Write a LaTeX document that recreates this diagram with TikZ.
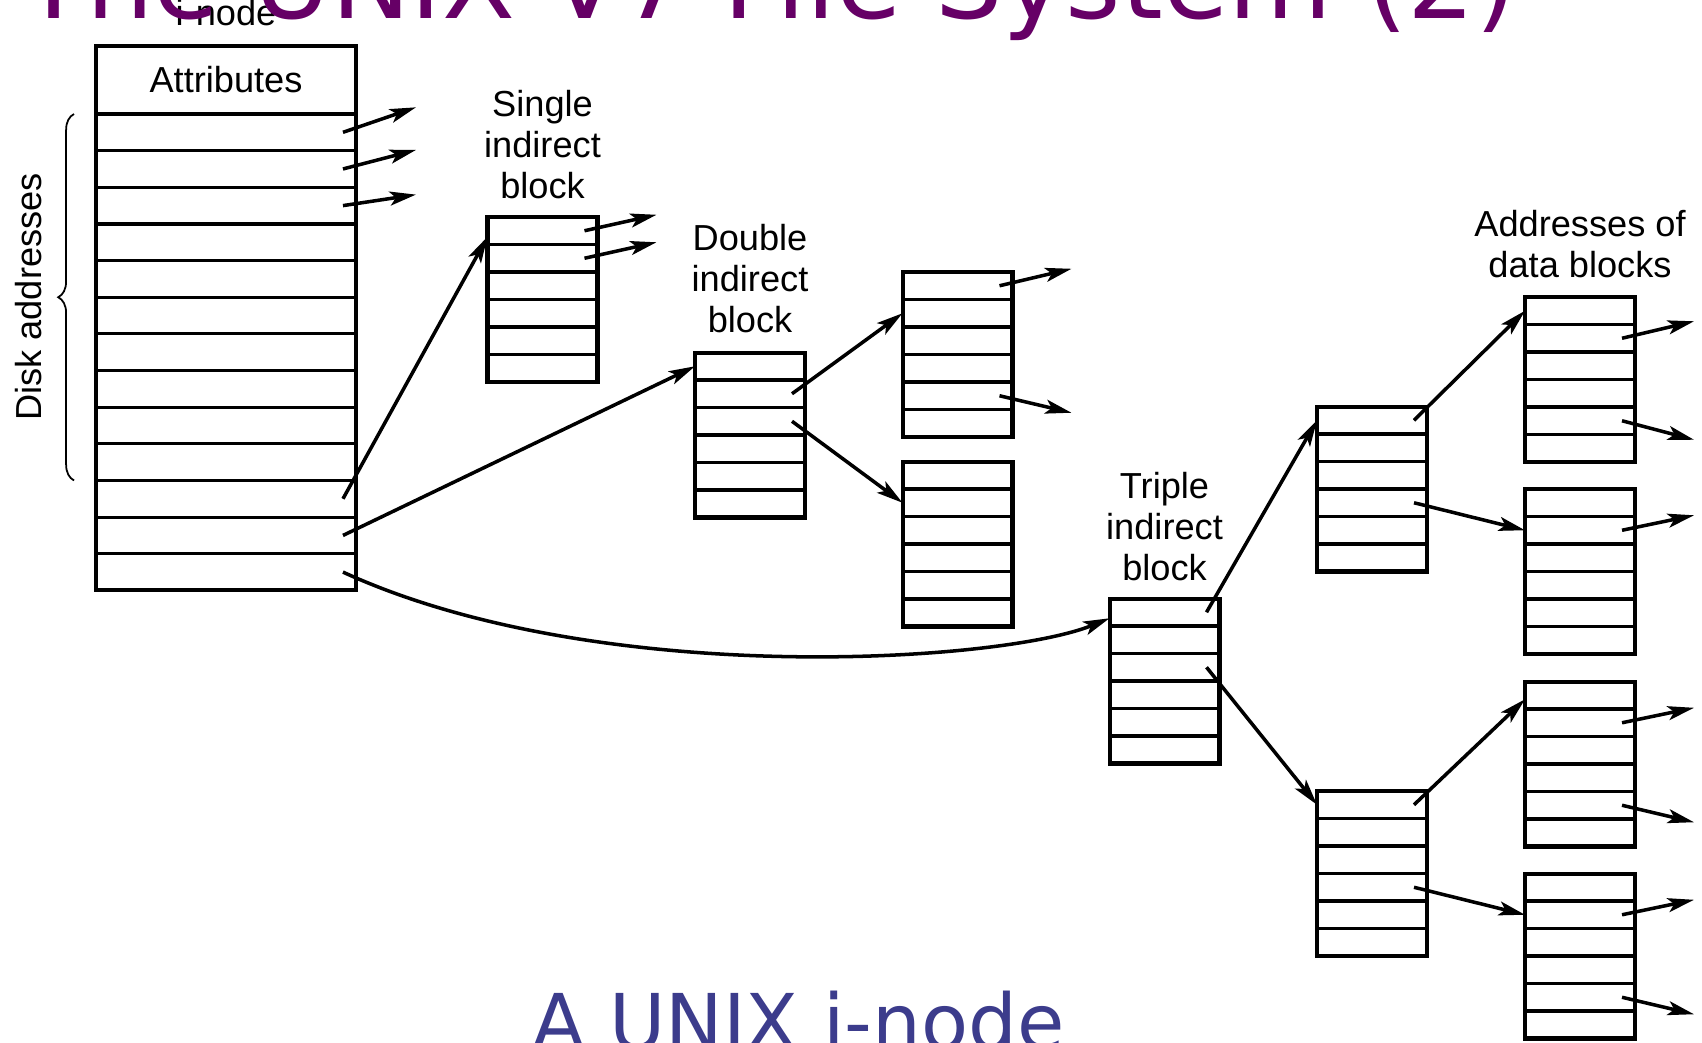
\documentclass[tikz,border=0pt]{standalone}
\usepackage{fontspec}
\usepackage{tikz}
\usetikzlibrary{arrows.meta,positioning,calc,decorations.pathreplacing}
\newfontfamily\lbfont{Liberation Sans}
\newfontfamily\ttlfont{DejaVu Sans}
\definecolor{ttlpurple}{HTML}{660066}
\definecolor{subblue}{HTML}{3C3C8C}
% row lines of a block, and a named point in every row
\newcommand{\cells}[2]{%
  \foreach \k in {1,...,#2}{
    \coordinate (#1-\k) at ($(#1.north east)!{(\k-0.5)/#2}!(#1.south east)+(-13,0)$);
    \coordinate (#1-w\k) at ($(#1.north west)!{(\k-0.5)/#2}!(#1.south west)$);
  }
  \pgfmathtruncatemacro{\ncut}{#2-1}
  \foreach \k in {1,...,\ncut}
    \draw[cell] ($(#1.north west)!{\k/#2}!(#1.south west)$) -- ($(#1.north east)!{\k/#2}!(#1.south east)$);
}

\begin{document}
\begin{tikzpicture}[x=0.02cm, y=-0.02cm, >={Stealth[length=15pt,width=8pt,inset=3.5pt]},
 blk/.style={draw, line width=2.3pt, minimum width=2.2cm, minimum height=3.3cm, inner sep=0pt, outer sep=0pt},
 cell/.style={line width=1.8pt},
 ptr/.style={->, line width=2pt},
 lbl/.style={font=\lbfont\fontsize{20.6}{23.3}\selectfont, align=center, inner sep=0pt}]
\fill[white] (0,0) rectangle (1702,1042);
\useasboundingbox (0,0) rectangle (1702,1042);
% the i-node
\node[blk, lbl, minimum width=5.2cm, minimum height=1.36cm] (attr) at (226,80) {Attributes};
\node[blk, minimum width=5.2cm, minimum height=9.53cm, below=0pt of attr] (ino) {};
\cells{ino}{13}
\node[lbl, above=0.4cm of attr] (inolbl) {i-node};
\draw[decorate, decoration={brace, amplitude=9pt}, line width=1pt]
 ($(ino.north west)!10/13!(ino.south west)+(-22,0)$) -- ($(ino.north west)+(-22,0)$);
\node[lbl, rotate=90] (disk) at (29,297) {Disk addresses};
% indirect blocks
\node[blk] (sib) at (542.5,299.5) {};
\node[blk] (dib) at (750,435) {};
\node[blk] (d1) at (957.5,354.5) {};
\node[blk] (d2) at (957.5,544) {};
\node[blk] (tib) at (1164.5,681) {};
\node[blk] (t1) at (1372,489) {};
\node[blk] (t2) at (1372,873.5) {};
\node[blk] (a1) at (1580,379.5) {};
\node[blk] (a2) at (1580,571.5) {};
\node[blk] (a3) at (1580,764) {};
\node[blk] (a4) at (1580,956) {};
\foreach \b in {sib,dib,d1,d2,tib,t1,t2,a1,a2,a3,a4} {\cells{\b}{6}}
\node[lbl, above=0.36cm of sib] (siblbl) {Single\\indirect\\block};
\node[lbl, above=0.38cm of dib] (diblbl) {Double\\indirect\\block};
\node[lbl, above=0.34cm of tib] (tiblbl) {Triple\\indirect\\block};
\node[lbl, above=0.38cm of a1] (albl) {Addresses of\\data blocks};
% direct addresses
\foreach \i/\dy in {1/-25, 2/-19, 3/-11} {
 \coordinate (ino-o\i) at ($(ino-\i)+(73,\dy)$);
 \draw[ptr] (ino-\i) -- (ino-o\i);
}
\foreach \i in {1,2} {
 \coordinate (sib-o\i) at ($(sib-\i)+(72,-16)$);
 \draw[ptr] (sib-\i) -- (sib-o\i);
}
% indirect chains
\draw[ptr] (ino-11) -- ($(sib-w1)+(0,6)$);
\draw[ptr] (ino-12) -- (dib-w1);
\draw[ptr] (ino-13) .. controls +(255,117) and +(-108,44) .. ($(tib-w1)+(0,6)$);
\draw[ptr] (dib-2) -- (d1-w2);
\draw[ptr] (dib-3) -- (d2-w2);
\coordinate (d1-o1) at ($(d1-1)+(72,-17)$);
\coordinate (d1-o5) at ($(d1-5)+(72,17)$);
\draw[ptr] (d1-1) -- (d1-o1);
\draw[ptr] (d1-5) -- (d1-o5);
\draw[ptr] (tib-1) -- (t1-w1);
\draw[ptr] (tib-3) -- (t2-w1);
\draw[ptr] (t1-1) -- (a1-w1);
\draw[ptr] (t1-4) -- (a2-w2);
\draw[ptr] (t2-1) -- ($(a3-w1)+(0,4)$);
\draw[ptr] (t2-4) -- (a4-w2);
% data block addresses
\foreach \b/\i/\dy in {a1/2/-17, a1/5/19, a2/2/-15, a3/2/-15, a3/5/17, a4/2/-15, a4/5/17} {
 \coordinate (\b-o\i) at ($(\b-\i)+(72,\dy)$);
 \draw[ptr] (\b-\i) -- (\b-o\i);
}
% slide texts
\node[anchor=base west, inner sep=0pt, text=ttlpurple, font=\ttlfont\fontsize{60.6}{72}\selectfont] (title) at (21,18) {The UNIX V7 File System (2)};
\node[anchor=base west, inner sep=0pt, text=subblue, font=\ttlfont\fontsize{43.8}{52}\selectfont] (sub) at (532,1049) {A UNIX i-node};
\end{tikzpicture}
\end{document}
